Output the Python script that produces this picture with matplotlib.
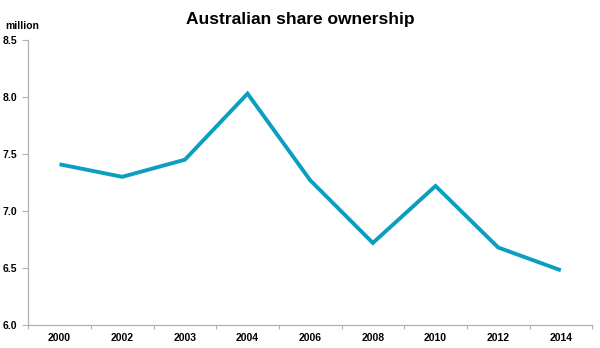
import matplotlib
matplotlib.use("Agg")
import matplotlib.pyplot as plt
import numpy as np

years = ["2000", "2002", "2003", "2004", "2006", "2008", "2010", "2012", "2014"]
owners_million = [7.41, 7.30, 7.45, 8.03, 7.27, 6.72, 7.22, 6.68, 6.48]

LINE = "#0a9fc0"
AXIS = "#b0b0b0"

plt.rcParams["font.family"] = ["Liberation Sans", "DejaVu Sans"]

fig = plt.figure(figsize=(6.0, 3.48), dpi=100)
ax = fig.add_axes([0.047, 0.066, 0.94, 0.819])

x = np.arange(len(years))
ax.plot(x, owners_million, color=LINE, linewidth=2.8, solid_capstyle="butt",
        solid_joinstyle="miter")

ax.set_xlim(-0.5, len(years) - 0.5)
ax.set_ylim(6.0, 8.5)
ax.set_yticks([6.0, 6.5, 7.0, 7.5, 8.0, 8.5])
ax.set_yticklabels([f"{v:.1f}" for v in [6.0, 6.5, 7.0, 7.5, 8.0, 8.5]],
                   fontsize=7.5, fontweight="bold")

# category labels centred, tick marks at the boundaries
ax.set_xticks(x)
ax.set_xticklabels(years, fontsize=7.5, fontweight="bold")
ax.set_xticks(np.arange(len(years) + 1) - 0.5, minor=True)
ax.tick_params(axis="x", which="major", length=0, pad=6)
ax.tick_params(axis="x", which="minor", length=3, color=AXIS, width=0.8)
ax.tick_params(axis="y", length=4, color=AXIS, width=0.8, pad=4)

for side in ("top", "right"):
    ax.spines[side].set_visible(False)
for side in ("left", "bottom"):
    ax.spines[side].set_color(AXIS)
    ax.spines[side].set_linewidth(0.9)

fig.text(0.5, 0.945, "Australian share ownership", ha="center", va="center",
         fontsize=12.5, fontweight="bold")
fig.text(0.008, 0.925, "million", ha="left", va="center",
         fontsize=7.5, fontweight="bold")

fig.savefig("out.png", dpi=100)
